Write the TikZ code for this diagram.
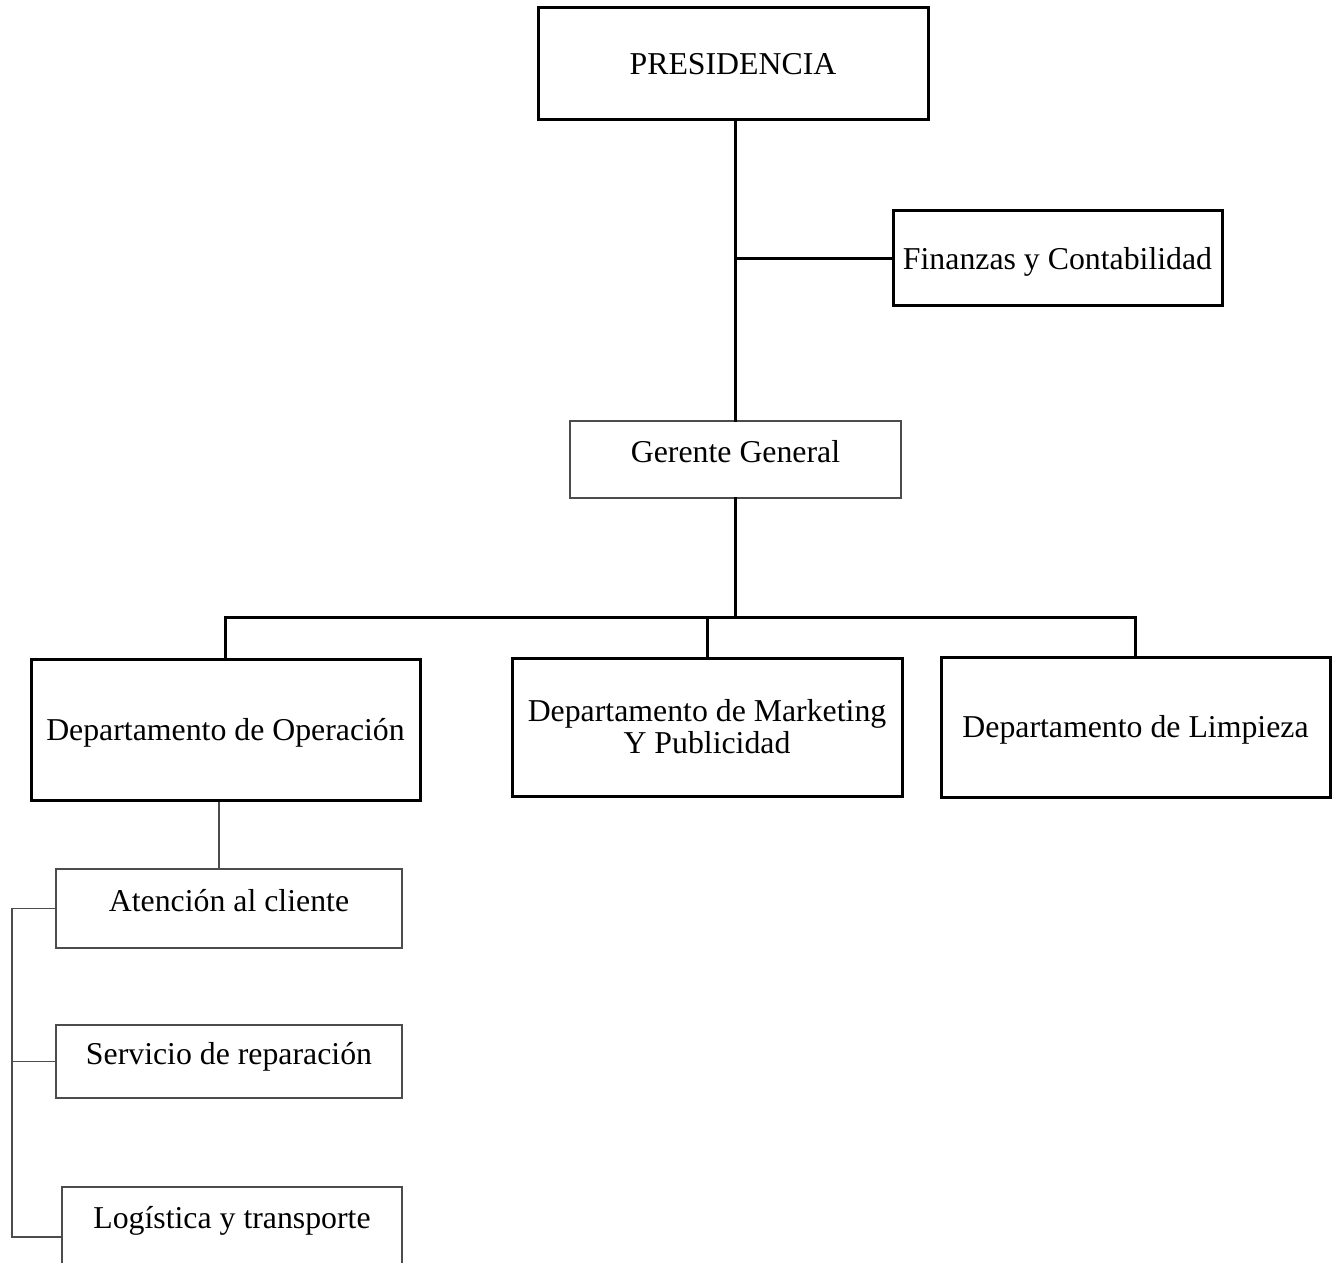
\documentclass[tikz,border=0pt]{standalone}
\usepackage{fontspec}
\setmainfont{Liberation Serif}
\begin{document}
\begin{tikzpicture}[x=0.5pt, y=-0.5pt,
        box/.style={draw, line width=1.5pt, inner sep=2pt, align=center,
            font=\fontsize{15.9pt}{16pt}\selectfont, text height=1.07em, text depth=0pt},
        thinbox/.style={box, draw=black!70, line width=0.75pt, text height=14pt, text depth=11.5pt},
        link/.style={line width=1.5pt, line cap=rect},
        thinlink/.style={draw=black!70, line width=0.75pt}]
    \useasboundingbox (0,0) rectangle (1336,1262);
    \clip (0,0) rectangle (1336,1262);
    % Boxes
    \node[box, minimum width=195pt, minimum height=56pt] (pres) at (733,64) {PRESIDENCIA};
    \node[box, minimum width=164.5pt, minimum height=47.5pt] (fin) at (1057.5,258.5) {Finanzas y Contabilidad};
    \node[thinbox, minimum width=165.5pt, minimum height=38.5pt] (ger) at (735.5,459.5) {Gerente General};
    \node[box, minimum width=194.5pt, minimum height=70.5pt] (ope) at (225.5,729.5) {Departamento de Operación};
    \node[box, minimum width=195pt, minimum height=69pt, text height=, text depth=] (mkt) at (707,727) {Departamento de Marketing\\Y Publicidad};
    \node[box, minimum width=194.5pt, minimum height=70pt] (lim) at (1135.5,727) {Departamento de Limpieza};
    \node[thinbox, minimum width=173pt, minimum height=39.5pt] (ate) at (229,908.5) {Atención al cliente};
    \node[thinbox, minimum width=173pt, minimum height=36.5pt] (ser) at (229,1061.5) {Servicio de reparación};
    \node[thinbox, minimum width=170pt, minimum height=50pt, text depth=23pt] (log) at (232,1237) {Logística y transporte};
    % Trunk and branches
    \draw[link] (ger.north |- pres.south) -- (ger.north);
    \draw[link] (ger.north |- fin.west) -- (fin.west);
    \coordinate (bus) at (0,617);
    \draw[link] (ger.south) -- (ger.south |- bus);
    \draw[link] (ope.north |- bus) -- (lim.north |- bus);
    \foreach \d in {ope, mkt, lim} {
            \draw[link] (\d.north |- bus) -- (\d.north);
        }
    % Operacion units
    \coordinate (tap) at (219,0);
    \coordinate (rail) at (12,0);
    \draw[thinlink] (tap |- ope.south) -- (tap |- ate.north);
    \draw[thinlink] (ate.west) -- (rail |- ate.west) -- (rail |- log.west) -- (log.west);
    \draw[thinlink] (rail |- ser.west) -- (ser.west);
\end{tikzpicture}
\end{document}
